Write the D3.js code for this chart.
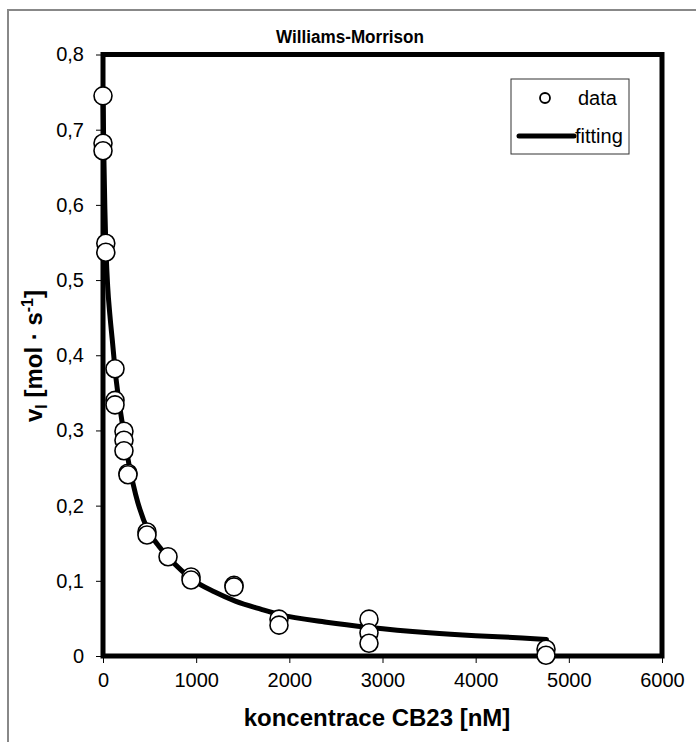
<!DOCTYPE html>
<html><head><meta charset="utf-8">
<script src="https://cdn.jsdelivr.net/npm/d3@7"></script>
<style>body{margin:0;background:#fff}svg{display:block}text{font-family:"Liberation Sans",Arial,sans-serif}</style>
</head><body><svg id="c" width="696" height="742"></svg>
<script>
const title = "Williams-Morrison";
const xTitle = "koncentrace CB23 [nM]";
const xTicks = [0,1000,2000,3000,4000,5000,6000];
const yTicks = [0,0.1,0.2,0.3,0.4,0.5,0.6,0.7,0.8];
const dataX = [0,0,0,30,30,129,129,129,225,225,225,268,268,472,472,698,945,945,1406,1406,1889,1889,2855,2855,2855,4755,4755];
const dataY = [0.745,0.682,0.672,0.549,0.537,0.382,0.340,0.334,0.299,0.287,0.273,0.243,0.241,0.165,0.161,0.132,0.105,0.101,0.094,0.092,0.049,0.041,0.049,0.031,0.017,0.009,0.001];
const fitX = [0,10,20,30,50,75,100,130,200,240,280,350,480,600,710,850,955,1200,1420,1700,1900,2400,2865,3500,4000,4500,4760];
const fitY = [0.75,0.66,0.595,0.548,0.492,0.452,0.42,0.38,0.315,0.283,0.254,0.215,0.168,0.146,0.13,0.113,0.102,0.085,0.073,0.062,0.055,0.045,0.038,0.031,0.027,0.024,0.022];

const svg = d3.select("#c");
const L=103,R=662,T=54.5,B=656;
const x = d3.scaleLinear().domain([0,6000]).range([L,R]);
const y = d3.scaleLinear().domain([0,0.8]).range([B,T]);
const fmt = d => d3.format(".1f")(d).replace(".",",");

// outer chart border
svg.append("path").attr("d","M8,742 L8,10 L696,10").attr("fill","none").attr("stroke","#888").attr("stroke-width",2);

// axes
const xa = svg.append("g").attr("transform",`translate(0,${B})`)
  .call(d3.axisBottom(x).tickValues(xTicks).tickSize(7).tickPadding(10).tickFormat(d=>d));
const ya = svg.append("g").attr("transform",`translate(${L},0)`)
  .call(d3.axisLeft(y).tickValues(yTicks).tickSize(7).tickPadding(12).tickFormat(d=>d===0?"0":fmt(d)));
[xa,ya].forEach(g=>{g.select(".domain").remove();g.selectAll("line").attr("stroke","#000").attr("stroke-width",1);
  g.selectAll("text").attr("font-size",20).attr("fill","#000").style("font-family","'Liberation Sans',Arial,sans-serif");});

// fit line
const line = d3.line().x((d,i)=>x(fitX[i])).y((d,i)=>y(fitY[i])).curve(d3.curveMonotoneX);
svg.append("path").datum(fitX).attr("d",line).attr("fill","none").attr("stroke","#000").attr("stroke-width",5).attr("stroke-linecap","round");

// frame
svg.append("rect").attr("x",L).attr("y",T).attr("width",R-L).attr("height",B-T).attr("fill","none").attr("stroke","#000").attr("stroke-width",5);

// data points
svg.append("g").selectAll("circle").data(dataX).join("circle")
  .attr("cx",(d,i)=>x(d)).attr("cy",(d,i)=>y(dataY[i])).attr("r",9)
  .attr("fill","#fff").attr("stroke","#000").attr("stroke-width",1.6);

// title
svg.append("text").attr("x",350).attr("y",43).attr("text-anchor","middle").attr("font-weight","bold").attr("font-size",18)
  .attr("textLength",148).attr("lengthAdjust","spacingAndGlyphs").text(title);
// x title
svg.append("text").attr("x",377).attr("y",726).attr("text-anchor","middle").attr("font-weight","bold").attr("font-size",24).text(xTitle);
// y title
const yt = svg.append("text").attr("transform","translate(42,356) rotate(-90)").attr("text-anchor","middle").attr("font-weight","bold").attr("font-size",24);
yt.append("tspan").text("v");
yt.append("tspan").attr("font-size",16).attr("dy",5).text("I");
yt.append("tspan").attr("dy",-5).text(" [mol · s");
yt.append("tspan").attr("font-size",16).attr("dy",-9).text("-1");
yt.append("tspan").attr("dy",9).text("]");

// legend
const lg = svg.append("g");
lg.append("rect").attr("x",511).attr("y",79).attr("width",118).attr("height",75).attr("fill","#fff").attr("stroke","#333").attr("stroke-width",1);
lg.append("circle").attr("cx",545).attr("cy",98).attr("r",5).attr("fill","#fff").attr("stroke","#000").attr("stroke-width",1.8);
lg.append("text").attr("x",578).attr("y",105).attr("font-size",20).text("data");
lg.append("line").attr("x1",519).attr("x2",574).attr("y1",136).attr("y2",136).attr("stroke","#000").attr("stroke-width",5).attr("stroke-linecap","round");
lg.append("text").attr("x",575).attr("y",143).attr("font-size",20).text("fitting");
</script></body></html>
